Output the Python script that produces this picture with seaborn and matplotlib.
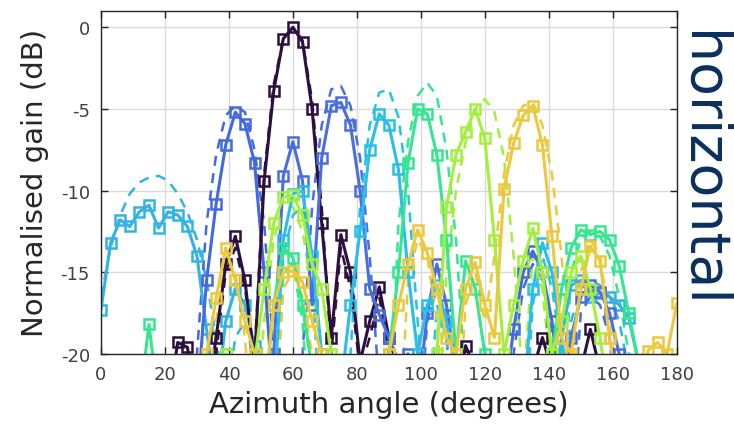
import numpy as np
import pandas as pd
import matplotlib
matplotlib.use("Agg")
import matplotlib.pyplot as plt
import seaborn as sns

# azimuth grid (degrees)
angles = [0, 3, 6, 9, 12, 15, 18, 21, 24, 27, 30, 33, 36, 39, 42, 45, 48, 51, 54, 57,
          60, 63, 66, 69, 72, 75, 78, 81, 84, 87, 90, 93, 96, 99, 102, 105, 108, 111, 114, 117,
          120, 123, 126, 129, 132, 135, 138, 141, 144, 147, 150, 153, 156, 159, 162, 165, 168, 171, 174, 177, 180]

beam_colors = ["#33b2e6", "#4468de", "#2c1040", "#4a6ee2", "#29bfe9", "#35e690", "#a2f03c", "#ecc83c"]

# measured (solid + open squares)
meas_b20 = [-17.3, -13.2, -11.8, -12.2, -11.3, -10.9, -12.3, -11.3, -11.5, -12.2, -14.0, -18.5, -23, -18.0, -16.0, -17.0, -19.5, -23, -23, -23,
            -23, -23, -23, -23, -23, -23, -23, -23, -23, -23, -23, -23, -23, -23, -23, -23, -23, -23, -23, -23,
            -23, -23, -23, -23, -23, -23, -23, -23, -19.0, -15.8, -15.5, -16.5, -16.3, -16.5, -17.0, -17.8, -20.5, -23, -23, -23, -23]
meas_b42 = [-23, -23, -23, -23, -23, -23, -23, -23, -23, -23, -23, -15.5, -10.8, -7.2, -5.2, -5.9, -8.3, -15.0, -23, -23,
            -23, -23, -23, -23, -23, -23, -23, -23, -23, -23, -23, -23, -23, -23, -23, -23, -23, -23, -23, -23,
            -23, -23, -23, -18.5, -15.0, -13.7, -15.0, -18.0, -23, -23, -23, -23, -23, -23, -23, -23, -23, -23, -23, -23, -23]
meas_b60 = [-23, -23, -23, -23, -23, -23, -23, -23, -19.3, -19.6, -23, -23, -19.0, -14.5, -12.8, -15.5, -20.5, -9.4, -3.9, -0.7,
            0.0, -0.9, -5.0, -12.0, -19.0, -12.7, -15.0, -20.5, -18.0, -15.9, -19.0, -21, -23, -23, -23, -23, -23, -23, -19.5, -21,
            -23, -23, -23, -23, -23, -21, -19.0, -21, -23, -23, -21, -18.5, -21, -23, -23, -23, -23, -23, -23, -23, -23]
meas_b75 = [-23, -23, -23, -23, -23, -23, -23, -23, -23, -23, -23, -23, -23, -23, -23, -23, -23, -23, -20.0, -9.1,
            -7.0, -9.4, -17.0, -8.0, -4.8, -4.6, -6.0, -10.0, -16.0, -17.6, -19.0, -20.5, -20.0, -23, -17.5, -14.5, -17.0, -21, -23, -23,
            -23, -23, -23, -23, -23, -23, -23, -23, -23, -19.0, -16.5, -15.8, -16.2, -17.5, -20.0, -23, -23, -23, -23, -23, -23]
meas_b88 = [-23, -23, -23, -23, -23, -23, -23, -23, -23, -23, -23, -23, -23, -23, -23, -23, -23, -23, -23, -13.0,
            -10.2, -10.0, -14.0, -20.0, -23, -22, -17.0, -12.5, -7.5, -5.3, -6.0, -8.7, -15.0, -20.0, -17.0, -15.8, -18.0, -21, -23, -23,
            -23, -23, -23, -23, -23, -16.0, -13.2, -15.0, -19.0, -23, -23, -23, -23, -23, -23, -23, -23, -23, -23, -23, -23]
meas_b103 = [-23, -23, -23, -23, -23, -18.2, -23, -23, -23, -23, -23, -23, -23, -20.0, -23, -23, -23, -23, -17.0, -13.5,
             -14.1, -17.0, -21, -23, -23, -23, -23, -23, -23, -23, -20.0, -15.0, -8.3, -5.0, -5.3, -7.8, -13.0, -20.0, -14.3, -16.0,
             -20.0, -23, -23, -23, -23, -23, -23, -20.0, -16.0, -13.5, -12.4, -12.7, -12.5, -13.0, -14.6, -17.5, -20.5, -23, -23, -23, -23]
meas_b118 = [-23, -23, -23, -23, -23, -23, -23, -23, -23, -23, -23, -23, -23, -20.0, -23, -23, -20.5, -16.0, -12.0, -10.4,
             -10.3, -11.5, -14.5, -16.0, -20.0, -23, -23, -23, -23, -23, -23, -23, -23, -23, -23, -20.0, -11.0, -7.8, -6.4, -5.0,
             -6.8, -13.0, -20.0, -17.0, -14.3, -12.3, -15.0, -20.0, -18.0, -15.0, -14.0, -16.0, -19.0, -23, -23, -23, -23, -23, -23, -23, -23]
meas_b135 = [-23, -23, -23, -23, -23, -23, -23, -23, -23, -23, -23, -20.0, -16.6, -13.5, -15.5, -18.0, -20.0, -23, -17.0, -15.0,
             -14.9, -15.6, -18.0, -20.0, -23, -23, -23, -23, -23, -23, -20.0, -17.0, -14.5, -12.4, -13.8, -16.0, -19.0, -20.0, -16.0, -14.4,
             -17.0, -19.0, -9.9, -7.1, -5.4, -4.8, -7.2, -12.8, -19.0, -20.0, -16.0, -13.4, -14.3, -19.0, -23, -23, -23, -19.8, -19.3, -20.0, -16.9]

# simulated (dashed)
sim_b20 = [-16.5, -13.5, -11.5, -10.2, -9.5, -9.2, -9.1, -9.4, -10.2, -11.3, -13.0, -15.5, -19.0, -23, -19.0, -18.0, -20.5, -26, -26, -26,
           -26, -26, -26, -26, -26, -26, -26, -26, -26, -26, -26, -26, -26, -26, -26, -26, -26, -26, -26, -26,
           -26, -26, -26, -26, -26, -26, -26, -26, -26, -18.0, -16.0, -15.5, -15.8, -16.5, -18.0, -21, -26, -26, -26, -26, -26]
sim_b42 = [-26, -26, -26, -26, -26, -26, -26, -26, -26, -26, -20.0, -12.0, -7.8, -5.4, -4.8, -5.2, -7.5, -12.0, -20.0, -26,
           -26, -26, -26, -26, -26, -26, -26, -26, -26, -26, -26, -26, -26, -26, -26, -26, -26, -26, -26, -26,
           -26, -26, -26, -20.0, -16.0, -14.5, -15.5, -19.0, -26, -26, -26, -26, -26, -26, -26, -26, -26, -26, -26, -26, -26]
sim_b60 = [-26, -26, -26, -26, -26, -26, -26, -26, -26, -26, -26, -26, -20.0, -15.0, -13.5, -16.0, -20.0, -9.0, -3.5, -0.7,
           0.0, -0.8, -4.5, -11.0, -20.0, -13.5, -16.0, -21, -19.0, -16.5, -20.0, -26, -26, -26, -26, -26, -26, -26, -26, -26,
           -26, -26, -26, -26, -26, -26, -26, -26, -26, -26, -26, -26, -26, -26, -26, -26, -26, -26, -26, -26, -26]
sim_b75 = [-26, -26, -26, -26, -26, -26, -26, -26, -26, -26, -26, -26, -26, -26, -26, -26, -26, -26, -26, -26,
           -26, -20.0, -11.0, -6.0, -3.8, -3.6, -4.8, -8.0, -14.0, -22, -26, -26, -26, -26, -18.0, -16.0, -19.0, -26, -26, -26,
           -26, -26, -26, -26, -26, -26, -26, -26, -26, -26, -17.5, -16.5, -17.0, -19.0, -26, -26, -26, -26, -26, -26, -26]
sim_b88 = [-26, -26, -26, -26, -26, -26, -26, -26, -26, -26, -26, -26, -26, -26, -26, -26, -26, -26, -26, -14.0,
           -11.5, -11.0, -15.0, -26, -26, -26, -20.0, -11.0, -6.0, -4.0, -3.8, -5.5, -10.0, -18.0, -26, -17.0, -19.0, -26, -26, -26,
           -26, -26, -26, -26, -26, -17.0, -14.0, -16.0, -20.0, -26, -26, -26, -26, -26, -26, -26, -26, -26, -26, -26, -26]
sim_b103 = [-26, -26, -26, -26, -26, -26, -26, -26, -26, -26, -26, -26, -26, -26, -26, -26, -26, -26, -26, -15.0,
            -14.5, -18.0, -26, -26, -26, -26, -26, -26, -26, -26, -26, -12.0, -7.0, -4.2, -3.4, -4.2, -7.5, -13.0, -22, -26,
            -26, -26, -26, -26, -26, -26, -26, -26, -26, -15.0, -13.0, -12.5, -12.8, -14.0, -16.5, -20.0, -26, -26, -26, -26, -26]
sim_b118 = [-26, -26, -26, -26, -26, -26, -26, -26, -26, -26, -26, -26, -26, -26, -26, -26, -26, -18.0, -13.0, -11.0,
            -11.0, -12.5, -16.0, -20.0, -26, -26, -26, -26, -26, -26, -26, -26, -26, -26, -26, -26, -15.0, -10.0, -7.0, -5.0,
            -4.4, -5.2, -8.0, -14.0, -22, -14.0, -16.0, -22, -26, -26, -26, -26, -26, -26, -26, -26, -26, -26, -26, -26, -26]
sim_b135 = [-26, -26, -26, -26, -26, -26, -26, -26, -26, -26, -26, -26, -18.0, -14.0, -15.0, -19.0, -26, -26, -26, -16.0,
            -15.0, -16.5, -20.0, -26, -26, -26, -26, -26, -26, -26, -26, -26, -15.5, -13.0, -14.0, -18.0, -26, -26, -17.0, -15.0,
            -18.0, -14.0, -9.0, -6.0, -4.8, -4.6, -6.0, -9.0, -14.0, -22, -15.0, -13.0, -14.0, -18.0, -26, -26, -26, -26, -26, -26, -26]

measured = [meas_b20, meas_b42, meas_b60, meas_b75, meas_b88, meas_b103, meas_b118, meas_b135]
simulated = [sim_b20, sim_b42, sim_b60, sim_b75, sim_b88, sim_b103, sim_b118, sim_b135]
for arr in measured + simulated:
    assert len(arr) == len(angles), len(arr)

xticks = [0, 20, 40, 60, 80, 100, 120, 140, 160, 180]
yticks = [0, -5, -10, -15, -20]

sns.set_theme(style="ticks")
plt.rcParams['font.family'] = ['DejaVu Sans']

fig = plt.figure(figsize=(7.34, 4.27), dpi=100)
ax = fig.add_axes([0.1376, 0.169, 0.7844, 0.803])

for color, sim in zip(beam_colors, simulated):
    sns.lineplot(x=angles, y=sim, ax=ax, color=color, linewidth=1.8,
                 linestyle=(0, (4, 3)), estimator=None, sort=False, legend=False)
for color, meas in zip(beam_colors, measured):
    sns.lineplot(x=angles, y=meas, ax=ax, color=color, linewidth=2.2,
                 marker='s', markersize=6.5, markerfacecolor='none',
                 markeredgecolor=color, markeredgewidth=1.8,
                 estimator=None, sort=False, legend=False)

ax.set_xlim(0, 180)
ax.set_ylim(-20, 1)
ax.set_xticks(xticks)
ax.set_yticks(yticks)
ax.set_xticklabels([str(v) for v in xticks])
ax.set_yticklabels([str(v) for v in yticks])
ax.grid(True, color="#dadada", linewidth=1.0)
ax.set_axisbelow(True)
for s in ax.spines.values():
    s.set_visible(True)
    s.set_color("#262626")
    s.set_linewidth(1.0)
ax.tick_params(direction='in', top=True, right=True, length=5, width=1,
               labelsize=13, labelcolor="#404040", color="#262626", pad=8)
ax.set_xlabel("Azimuth angle (degrees)", fontsize=21, color="#262626", labelpad=5)
ax.set_ylabel("Normalised gain (dB)", fontsize=21, color="#262626", labelpad=8)

fig.text(0.956, 0.604, "horizontal", rotation=-90, fontsize=40, color="#0b2f5e",
         ha='center', va='center')

fig.savefig("out.png", dpi=100)
